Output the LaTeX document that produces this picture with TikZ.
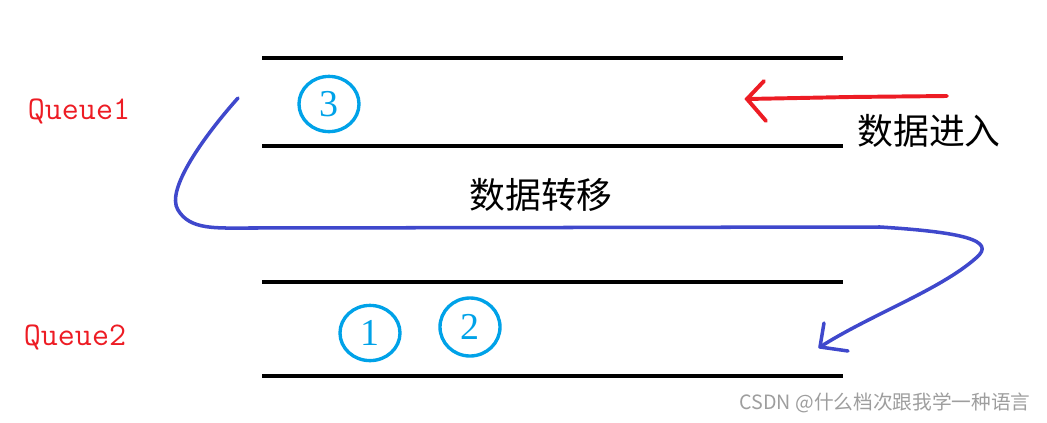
\documentclass[tikz,border=0pt]{standalone}
\usepackage{fontspec}
\usetikzlibrary{shapes.geometric}
\newfontfamily\cjk{Noto Sans CJK SC}
\newfontfamily\numfont{Liberation Serif}
\definecolor{qred}{HTML}{ED1C24}
\definecolor{qcyan}{HTML}{00A2E8}
\definecolor{qblue}{HTML}{3F48CC}
\tikzset{
  wall/.style={line width=2.8pt},
  qlabel/.style={text=qred, font=\ttfamily\fontsize{23.5}{27}\selectfont},
  item/.style={ellipse, draw=qcyan, line width=2.4pt, text=qcyan,
    minimum width=1.5cm, minimum height=1.38cm, inner sep=0pt,
    font=\numfont\fontsize{27}{30}\selectfont},
  note/.style={font=\cjk\fontsize{25.5}{30}\selectfont},
  inpen/.style={qred, line width=2.8pt, line cap=round},
  movepen/.style={qblue, line width=2.5pt, line cap=round, line join=round}
}
\begin{document}
\begin{tikzpicture}[x=0.025cm, y=-0.025cm]
  \useasboundingbox (0,0) rectangle (1047,422);

  % --- queue walls ---
  \draw[wall] (262,58) -- (843,58);
  \draw[wall] (262,146) -- (843,146);
  \draw[wall] (262,282) -- (843,282);
  \draw[wall] (262,376) -- (843,376);

  % --- labels ---
  \node[qlabel] (q1) at (79,111) {Queue1};
  \node[qlabel] (q2) at (75,337) {Queue2};
  \node[note] (enter) at (929,131) {数据进入};
  \node[note] (move) at (541,195) {数据转移};

  % --- elements ---
  \node[item] (e3) at (329,104) {3};
  \node[item] (e1) at (370,333) {1};
  \node[item, minimum height=1.45cm] (e2) at (470,327) {2};

  % --- data in (red) ---
  \coordinate (inStart) at (947,96);
  \coordinate (inTip) at (747,99);
  \draw[inpen] (inStart) -- (850,97) -- (inTip);
  \draw[inpen] (764,81) -- (inTip) -- (766,121);

  % --- data transfer (blue) ---
  \coordinate (mvStart) at (238,98);
  \coordinate (mvTip) at (820,347);
  \draw[movepen] (mvStart) .. controls (205,135) and (165,190) .. (178,210)
    .. controls (190,230) and (215,228) .. (250,228) -- (880,227)
    .. controls (960,232) and (998,240) .. (976,258)
    .. controls (940,290) and (870,315) .. (mvTip);
  \draw[movepen] (824,323) -- (mvTip) -- (848,351);

  % --- watermark ---
  \node[text=black!38, font=\cjk\fontsize{14}{16}\selectfont] (mark) at (885,403) {CSDN @什么档次跟我学一种语言};

\end{tikzpicture}
\end{document}
